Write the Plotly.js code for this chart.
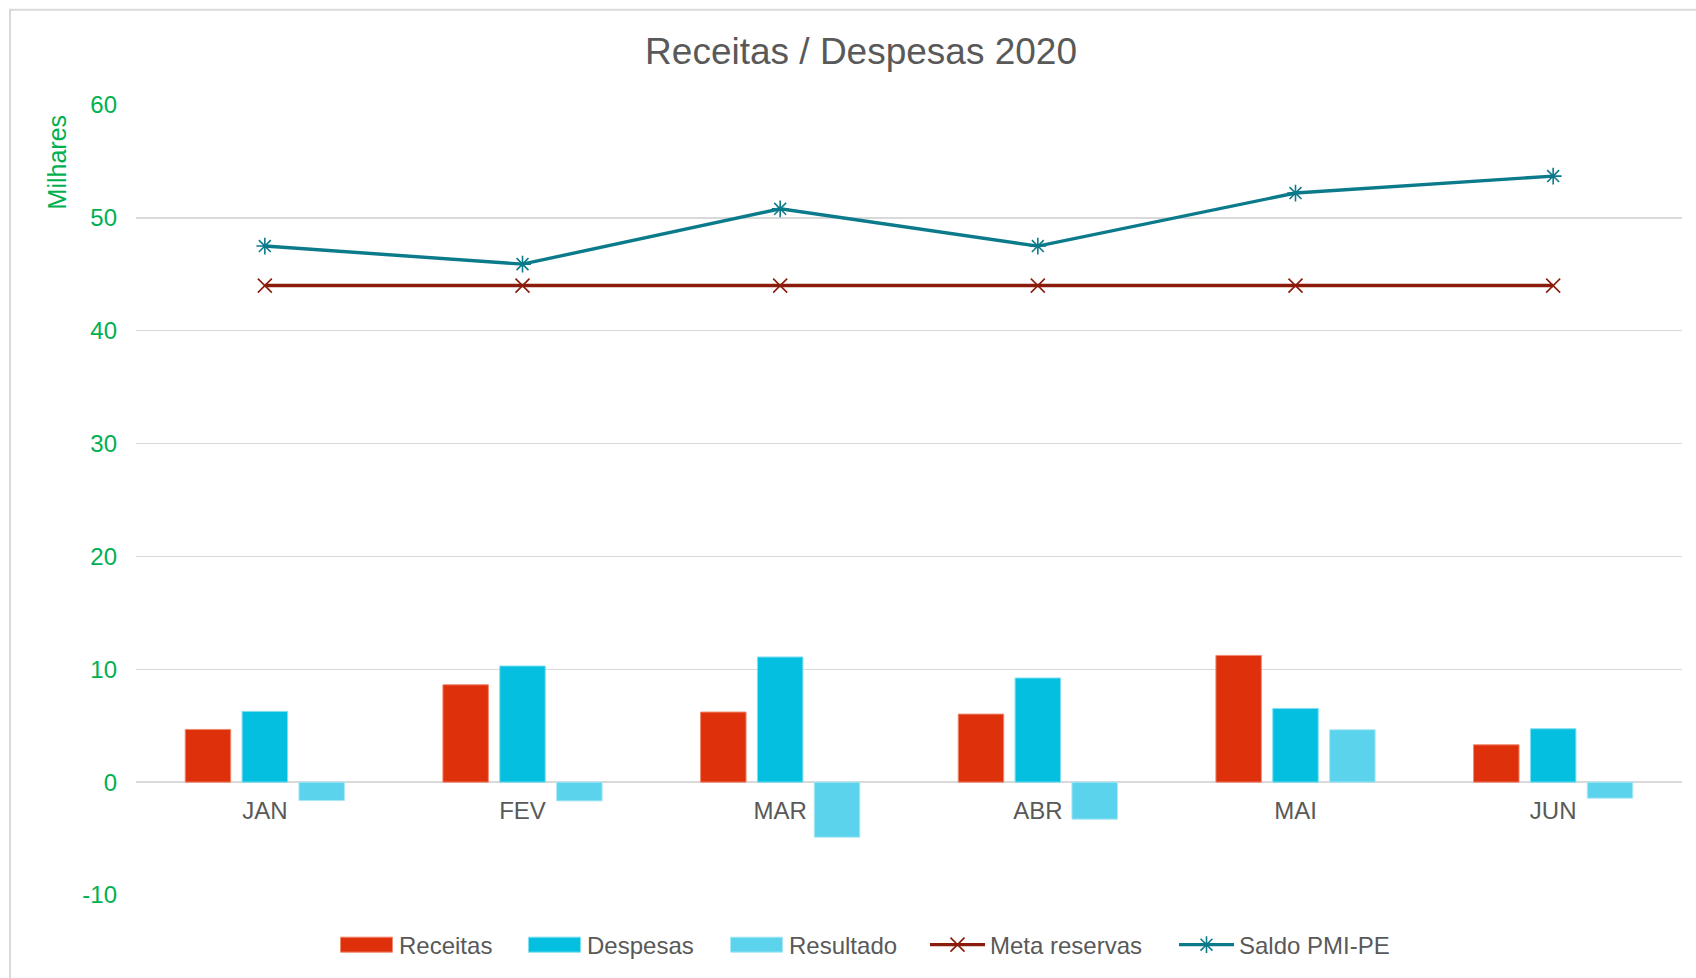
<!DOCTYPE html>
<html>
<head>
<meta charset="utf-8">
<script src="https://cdn.plot.ly/plotly-3.0.1.min.js"></script>
<style>
  html, body { margin: 0; padding: 0; background: #ffffff; }
  #chart { width: 1696px; height: 978px; }
</style>
</head>
<body>
<div id="chart"></div>
<script>
// Categories
const meses = ['JAN', 'FEV', 'MAR', 'ABR', 'MAI', 'JUN'];
// Values in thousands (Milhares)
const receitas  = [4.67, 8.63, 6.21, 6.03, 11.23, 3.31];
const despesas  = [6.27, 10.29, 11.09, 9.23, 6.53, 4.73];
const resultado = [-1.63, -1.66, -4.88, -3.28, 4.64, -1.42];
const metaReservas = [44.0, 44.0, 44.0, 44.0, 44.0, 44.0];
const saldoPMIPE   = [47.5, 45.9, 50.8, 47.5, 52.2, 53.7];
// Y tick labels
const yTicks = [-10, 0, 10, 20, 30, 40, 50, 60];

const FONT = 'Liberation Sans, Arial, Helvetica, sans-serif';
const GRAY = '#595959';
const GREEN = '#00B050';

const traces = [
  { type: 'bar', name: 'Receitas', legendwidth: 118, x: meses, y: receitas,
    marker: { color: '#DE300B', line: { color: '#F08A70', width: 1 } } },
  { type: 'bar', name: 'Despesas', legendwidth: 132, x: meses, y: despesas,
    marker: { color: '#04BFE0', line: { color: '#7FE0F0', width: 1 } } },
  { type: 'bar', name: 'Resultado', legendwidth: 131, x: meses, y: resultado,
    marker: { color: '#5BD3EC', line: { color: '#A8E8F5', width: 1 } } },
  { type: 'scatter', mode: 'lines+markers', name: 'Meta reservas', legendwidth: 179, x: meses, y: metaReservas,
    line: { color: '#8B1C0B', width: 3.4 },
    marker: { symbol: 'x-thin-open', size: 14, color: '#8B1C0B', line: { color: '#8B1C0B', width: 1.6 } } },
  { type: 'scatter', mode: 'lines+markers', name: 'Saldo PMI-PE', legendwidth: 152, x: meses, y: saldoPMIPE,
    line: { color: '#0B7A8A', width: 3.4 },
    marker: { symbol: 'asterisk-open', size: 14, color: '#0B7A8A', line: { color: '#0B7A8A', width: 1.6 } } }
];

const layout = {
  width: 1696, height: 978,
  paper_bgcolor: '#ffffff', plot_bgcolor: '#ffffff',
  margin: { l: 136, r: 14, t: 104.5, b: 82 },
  font: { family: FONT, color: GRAY, size: 24 },
  title: {
    text: 'Receitas / Despesas 2020',
    font: { family: FONT, size: 37, color: GRAY },
    x: 0.5077, xref: 'container', xanchor: 'center',
    y: 1 - 51 / 978, yref: 'container', yanchor: 'middle'
  },
  barmode: 'group',
  bargap: 0.338,
  bargroupgap: 0.2,
  showlegend: true,
  legend: {
    orientation: 'h',
    x: (334 - 136) / 1546, xanchor: 'left',
    y: -0.062, yanchor: 'middle',
    itemwidth: 55,
    traceorder: 'normal',
    font: { family: FONT, size: 24, color: GRAY },
    bgcolor: 'rgba(0,0,0,0)'
  },
  xaxis: {
    type: 'category',
    range: [-0.5, 5.5],
    anchor: 'free',
    position: 10 / 70,
    showgrid: false, showline: false, zeroline: false,
    ticks: '',
    ticklabelstandoff: 12,
    tickfont: { family: FONT, size: 24, color: GRAY }
  },
  yaxis: {
    range: [-10, 60],
    tickvals: yTicks,
    ticktext: yTicks.map(String),
    showgrid: true, gridcolor: '#D9D9D9', gridwidth: 1.5,
    zeroline: false, showline: false,
    ticks: '',
    ticklabelstandoff: 18,
    tickfont: { family: FONT, size: 24, color: GREEN }
  },
  annotations: [
    { text: 'Milhares', xref: 'paper', yref: 'paper',
      x: (57 - 136) / 1546, y: (896 - 162) / 791.5,
      xanchor: 'center', yanchor: 'middle', textangle: -90, showarrow: false,
      font: { family: FONT, size: 25, color: GREEN } }
  ],
  shapes: [
    { type: 'rect', xref: 'paper', yref: 'paper',
      x0: (10 - 136) / 1546, x1: 1.2, y0: -0.3, y1: (896 - 9) / 791.5,
      line: { color: '#D9D9D9', width: 2 }, fillcolor: 'rgba(0,0,0,0)', layer: 'below' }
  ]
};

function widenBarKeys(gd) {
  // Widen the bar legend swatches to match the wide Excel-style keys
  gd.querySelectorAll('.legend .legendpoints path').forEach(function (p) {
    const d = (p.getAttribute('d') || '').replace(/\s/g, '');
    if (d === 'M6,6H-6V-6H6Z') {
      p.setAttribute('d', 'M26,7.5H-26V-7.5H26Z');
    }
  });
}

const gdEl = document.getElementById('chart');
Plotly.newPlot(gdEl, traces, layout, { displayModeBar: false, staticPlot: true }).then(function (gd) {
  widenBarKeys(gd);
  gd.on('plotly_afterplot', function () { widenBarKeys(gd); });
  setTimeout(function () { widenBarKeys(gd); }, 30);
});
</script>
</body>
</html>
